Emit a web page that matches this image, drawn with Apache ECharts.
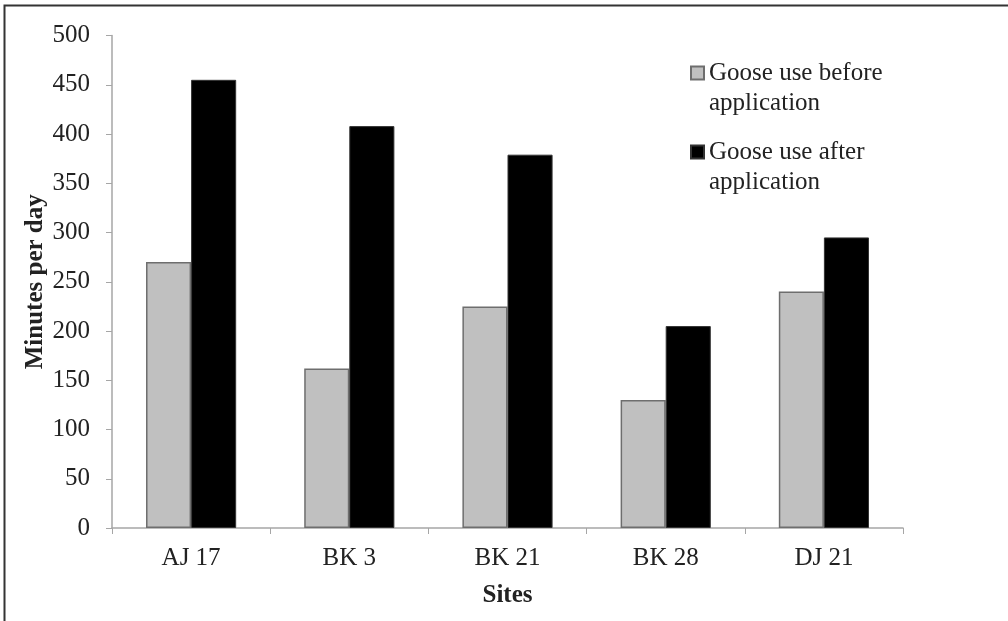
<!DOCTYPE html>
<html>
<head>
<meta charset="utf-8">
<script src="https://cdn.jsdelivr.net/npm/echarts@6/dist/echarts.min.js"></script>
<style>
html,body{margin:0;padding:0;background:#fff;}
#main{width:1008px;height:621px;}
</style>
</head>
<body>
<div id="main"></div>
<script>
var categories = ['AJ 17', 'BK 3', 'BK 21', 'BK 28', 'DJ 21'];
var seriesNames = ['Goose use before application', 'Goose use after application'];
var beforeValues = [270, 162, 225, 130, 240];
var afterValues = [455, 408, 379, 205, 295];
var yTicks = {min: 0, max: 500, interval: 50};

var FONT = 'Liberation Serif';
var FS = 25;
var chart = echarts.init(document.getElementById('main'));

function legendFor(name, top) {
  return {
    data: [{name: name, icon: 'rect'}],
    left: 690,
    top: top,
    padding: 0,
    orient: 'vertical',
    itemWidth: 13,
    itemHeight: 13,
    itemGap: 5,
    selectedMode: false,
    formatter: function (n) { return ' \n' + n.replace(' application', '\napplication'); },
    textStyle: {fontFamily: FONT, fontSize: FS, color: '#222', lineHeight: 30}
  };
}

chart.setOption({
  animation: false,
  backgroundColor: '#fff',
  graphic: [{
    type: 'rect',
    shape: {x: 4.5, y: 5.5, width: 1010, height: 640},
    style: {fill: 'none', stroke: '#333', lineWidth: 2},
    silent: true
  }],
  legend: [legendFor(seriesNames[0], 28), legendFor(seriesNames[1], 107)],
  grid: {left: 112, right: 105, top: 35.5, bottom: 93},
  xAxis: {
    type: 'category',
    data: categories,
    name: 'Sites',
    nameLocation: 'middle',
    nameGap: 55,
    nameMoveOverlap: false,
    nameTextStyle: {fontFamily: FONT, fontSize: FS, fontWeight: 'bold', color: '#222'},
    axisLine: {lineStyle: {color: '#a6a6a6', width: 1.5}},
    axisTick: {show: true, length: 6, lineStyle: {color: '#a6a6a6'}},
    axisLabel: {fontFamily: FONT, fontSize: FS, color: '#222', margin: 18}
  },
  yAxis: {
    type: 'value',
    min: yTicks.min,
    max: yTicks.max,
    interval: yTicks.interval,
    name: 'Minutes per day',
    nameLocation: 'middle',
    nameGap: 64,
    nameMoveOverlap: false,
    nameTextStyle: {fontFamily: FONT, fontSize: FS, fontWeight: 'bold', color: '#222'},
    axisLine: {show: true, lineStyle: {color: '#a6a6a6', width: 1.5}},
    axisTick: {show: true, length: 6, lineStyle: {color: '#a6a6a6'}},
    splitLine: {show: false},
    axisLabel: {fontFamily: FONT, fontSize: FS, color: '#222', margin: 22}
  },
  series: [{
    name: seriesNames[0],
    type: 'bar',
    data: beforeValues,
    barGap: '0%',
    barCategoryGap: '43%',
    itemStyle: {color: '#c0c0c0', borderColor: '#6e6e6e', borderWidth: 1.5}
  }, {
    name: seriesNames[1],
    type: 'bar',
    data: afterValues,
    barGap: '0%',
    barCategoryGap: '43%',
    itemStyle: {color: '#000', borderColor: '#333', borderWidth: 1}
  }]
});
</script>
</body>
</html>
